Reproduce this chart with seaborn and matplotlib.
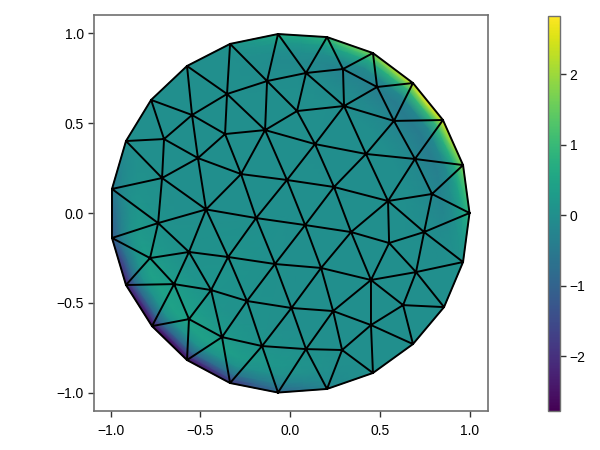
import numpy as np
import seaborn as sns
import matplotlib
matplotlib.use("Agg")
import matplotlib.pyplot as plt
import matplotlib.tri as mtri

# mesh outline, clockwise from the top
rim_x = [-0.067, 0.206, 0.462, 0.685, 0.852, 0.964, 1.000, 0.964, 0.858, 0.685, 0.462, 0.206,
         -0.067, -0.334, -0.574, -0.769, -0.914, -0.992, -0.992, -0.914, -0.774, -0.574, -0.334]
rim_y = [0.997, 0.980, 0.891, 0.724, 0.518, 0.267, 0.000, -0.273, -0.524, -0.730, -0.891, -0.980,
         -1.000, -0.947, -0.819, -0.630, -0.401, -0.139, 0.134, 0.401, 0.630, 0.819, 0.942]

# interior mesh nodes
inner_x = [-0.128, -0.351, -0.546, -0.702, -0.139, -0.362, -0.513, -0.713, -0.273, -0.017,
           -0.468, -0.735, -0.189, -0.563, -0.345, -0.084, -0.780, -0.646, -0.440, -0.240,
           0.008, -0.563, -0.379, -0.156, 0.089, 0.295, 0.485, 0.301, 0.039, 0.579,
           0.139, 0.423, 0.696, 0.791, 0.546, 0.245, 0.084, 0.340, 0.552, 0.747,
           0.702, 0.451, 0.173, 0.240, 0.630, 0.451, 0.290, 0.089]
inner_y = [0.735, 0.663, 0.546, 0.412, 0.462, 0.440, 0.306, 0.195, 0.217, 0.184,
           0.020, -0.056, -0.028, -0.217, -0.245, -0.284, -0.251, -0.396, -0.429, -0.490,
           -0.529, -0.591, -0.691, -0.741, 0.780, 0.802, 0.702, 0.596, 0.568, 0.513,
           0.384, 0.329, 0.301, 0.106, 0.067, 0.145, -0.067, -0.106, -0.167, -0.106,
           -0.329, -0.373, -0.306, -0.546, -0.513, -0.624, -0.763, -0.758]

# field read along the rim: one value per outline node and per edge midpoint
ring_scale = [1.00, 0.975, 0.95, 0.90, 0.85, 0.75, 0.65]
field_100 = [0.60, 0.60, 0.90, 1.50, 1.70, 2.20, 2.50, 2.80, 2.60, 2.20,
             1.80, 1.20, 0.90, 0.30, 0.05, 0.00, 0.00, 0.00, 0.00, 0.00,
             0.00, -0.05, -0.20, -0.60, -0.90, -1.30, -1.90, -2.40, -2.60, -2.78,
             -2.70, -2.60, -2.40, -1.90, -1.20, -0.90, -0.50, -0.20, 0.00, 0.00,
             0.00, 0.00, 0.00, 0.00, 0.05, 0.30]
field_975 = [0.42, 0.42, 0.63, 1.02, 1.18, 1.50, 1.72, 1.94, 1.80, 1.50,
             1.25, 0.83, 0.63, 0.20, 0.04, 0.00, 0.00, 0.00, 0.00, 0.00,
             0.00, -0.04, -0.14, -0.42, -0.63, -0.90, -1.31, -1.65, -1.80, -1.92,
             -1.88, -1.80, -1.65, -1.31, -0.83, -0.63, -0.35, -0.14, 0.00, 0.00,
             0.00, 0.00, 0.00, 0.00, 0.04, 0.20]
field_95 = [0.20, 0.20, 0.30, 0.50, 0.58, 0.75, 0.85, 0.95, 0.88, 0.75,
            0.60, 0.40, 0.30, 0.10, 0.02, 0.00, 0.00, 0.00, 0.00, 0.00,
            0.00, -0.02, -0.07, -0.20, -0.30, -0.44, -0.65, -0.82, -0.88, -0.95,
            -0.92, -0.88, -0.82, -0.65, -0.40, -0.30, -0.17, -0.07, 0.00, 0.00,
            0.00, 0.00, 0.00, 0.00, 0.02, 0.10]
field_90 = [-0.04, -0.04, -0.06, -0.10, -0.12, -0.15, -0.18, -0.20, -0.18, -0.15,
            -0.13, -0.08, -0.06, -0.02, 0.00, 0.00, 0.00, 0.00, 0.00, 0.00,
            0.00, 0.00, 0.01, 0.03, 0.04, 0.06, 0.08, 0.10, 0.10, 0.10,
            0.10, 0.10, 0.10, 0.08, 0.05, 0.04, 0.02, 0.01, 0.00, 0.00,
            0.00, 0.00, 0.00, 0.00, 0.00, -0.02]
field_85 = [-0.10, -0.12, -0.18, -0.26, -0.32, -0.38, -0.42, -0.45, -0.45, -0.42,
            -0.36, -0.26, -0.20, -0.08, -0.02, 0.00, 0.00, 0.00, 0.00, 0.00,
            0.00, 0.00, 0.03, 0.10, 0.16, 0.22, 0.30, 0.38, 0.42, 0.45,
            0.45, 0.44, 0.40, 0.32, 0.24, 0.18, 0.10, 0.04, 0.00, 0.00,
            0.00, 0.00, 0.00, 0.00, 0.00, -0.04]
field_75 = [-0.04, -0.04, -0.06, -0.10, -0.12, -0.14, -0.16, -0.18, -0.18, -0.16,
            -0.14, -0.10, -0.08, -0.04, 0.00, 0.00, 0.00, 0.00, 0.00, 0.00,
            0.00, 0.00, 0.02, 0.04, 0.06, 0.10, 0.14, 0.20, 0.24, 0.28,
            0.30, 0.28, 0.24, 0.18, 0.12, 0.08, 0.04, 0.02, 0.00, 0.00,
            0.00, 0.00, 0.00, 0.00, 0.00, -0.02]
field_65 = [0.00, 0.00, 0.00, 0.00, -0.02, -0.03, -0.03, -0.03, -0.03, -0.03,
            -0.02, 0.00, 0.00, 0.00, 0.00, 0.00, 0.00, 0.00, 0.00, 0.00,
            0.00, 0.00, 0.00, 0.00, 0.02, 0.03, 0.05, 0.08, 0.10, 0.12,
            0.12, 0.10, 0.08, 0.05, 0.03, 0.02, 0.00, 0.00, 0.00, 0.00,
            0.00, 0.00, 0.00, 0.00, 0.00, 0.00]
field_centre = 0.0

cbar_ticks = [-2, -1, 0, 1, 2]
axis_ticks = [-1.0, -0.5, 0.0, 0.5, 1.0]
vmin, vmax = -2.78, 2.83

sns.set_theme(style="ticks", rc={"axes.linewidth": 1.2, "axes.edgecolor": "#707070"})
plt.rcParams["font.family"] = ["Liberation Sans", "DejaVu Sans"]

fig = plt.figure(figsize=(6, 4.5), dpi=100)
ax = fig.add_axes([93.5 / 600, 39.5 / 450, 394.5 / 600, 395.5 / 450])
cax = fig.add_axes([548 / 600, 39 / 450, 12 / 600, 395 / 450])

# colour mesh: rings of samples between the outline and the centre
rim_x = np.array(rim_x)
rim_y = np.array(rim_y)
mid_x = (rim_x + np.roll(rim_x, -1)) / 2
mid_y = (rim_y + np.roll(rim_y, -1)) / 2
base_x = np.column_stack([rim_x, mid_x]).ravel()
base_y = np.column_stack([rim_y, mid_y]).ravel()
rings = [field_100, field_975, field_95, field_90, field_85, field_75, field_65]
m = len(base_x)
px = np.concatenate([base_x * s for s in ring_scale] + [[0.0]])
py = np.concatenate([base_y * s for s in ring_scale] + [[0.0]])
pz = np.concatenate(rings + [[field_centre]])
tris = []
for r in range(len(rings) - 1):
    for i in range(m):
        j = (i + 1) % m
        a, b, c, d = r * m + i, r * m + j, (r + 1) * m + i, (r + 1) * m + j
        tris += [[a, b, c], [b, d, c]]
for i in range(m):
    tris.append([(len(rings) - 1) * m + i, (len(rings) - 1) * m + (i + 1) % m, len(px) - 1])

ax.grid(True, color="#e4e4e4", lw=1.0)
ax.set_axisbelow(True)
pc = ax.tripcolor(mtri.Triangulation(px, py, tris), pz, shading="gouraud", cmap="viridis",
                  vmin=vmin, vmax=vmax, zorder=2)

# black element edges
mesh = mtri.Triangulation(np.concatenate([rim_x, inner_x]), np.concatenate([rim_y, inner_y]))
ax.triplot(mesh, color="black", lw=1.4, marker="", zorder=3)

ax.set_xlim(-1.095, 1.103)
ax.set_ylim(-1.10, 1.103)
ax.set_xticks(axis_ticks)
ax.set_yticks(axis_ticks)
ax.set_xticklabels(["\u22121.0", "\u22120.5", "0.0", "0.5", "1.0"])
ax.set_yticklabels(["\u22121.0", "\u22120.5", "0.0", "0.5", "1.0"])
ax.tick_params(length=4, width=1, color="#333333", labelsize=10, labelcolor="black", pad=3)
ax.tick_params(axis="x", pad=5.5)

cb = fig.colorbar(pc, cax=cax)
cb.set_ticks(cbar_ticks)
cb.set_ticklabels(["\u22122", "\u22121", "0", "1", "2"])
cb.outline.set_edgecolor("#707070")
cb.outline.set_linewidth(1.0)
cax.tick_params(length=4, width=1, color="#333333", labelsize=10, labelcolor="black", pad=3)

fig.savefig("out.png", dpi=100)
